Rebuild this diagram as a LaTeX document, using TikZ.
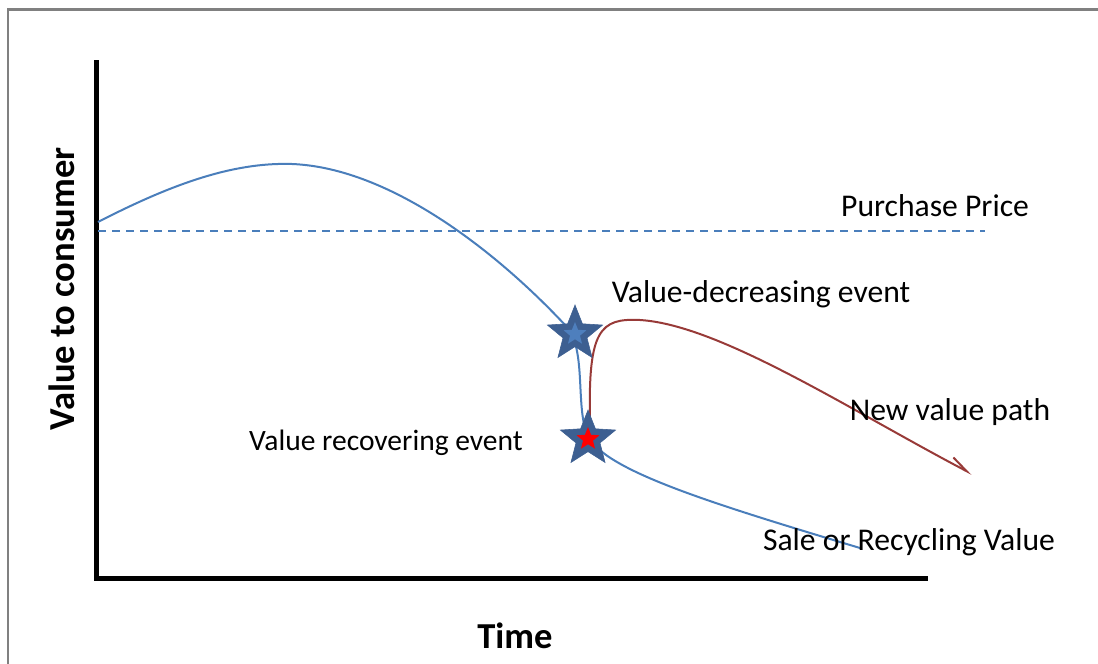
\documentclass[tikz,border=0pt]{standalone}
\usepackage{fontspec}
\setmainfont{Carlito}
\usetikzlibrary{shapes.geometric,arrows.meta}
\definecolor{curveblue}{HTML}{4A7EBB}
\definecolor{curvered}{HTML}{983A38}
\definecolor{stardark}{HTML}{3D5F91}
\definecolor{starlight}{HTML}{4E7FBD}
\tikzset{
  lbl/.style={font=\fontsize{22.5}{26}\selectfont, inner sep=0pt},
  axislbl/.style={font=\fontsize{26}{30}\selectfont\bfseries, inner sep=0pt},
  bigstar/.style={star, star points=5, star point ratio=2.3, fill=stardark, draw=stardark, minimum size=1.45cm, inner sep=0pt},
  smallstar/.style={star, star points=5, star point ratio=2.3, minimum size=0.6cm, inner sep=0pt}
}
\begin{document}
\begin{tikzpicture}[x=0.025cm,y=-0.025cm]
    \useasboundingbox (0,0) rectangle (1098,664);
    \draw[gray, line width=0.05cm] (8,664) -- (8,9.5) -- (1098,9.5);
    % axes
    \coordinate (top) at (96,62);
    \coordinate (origin) at (96,578);
    \coordinate (right) at (925,578);
    \draw[line width=0.125cm, line cap=rect] (top) -- (origin) -- (right);
    \node[axislbl] (time) at (515,636) {Time};
    \node[axislbl, rotate=90] (value) at (62,289) {Value to consumer};
    % purchase price
    \coordinate (pp start) at (98,231);
    \coordinate (pp end) at (985,231);
    \draw[curveblue, line width=0.04cm, dash pattern=on 0.2cm off 0.15cm] (pp start) -- (pp end);
    \node[lbl] (price) at (935,206) {Purchase Price};
    % value curves
    \coordinate (start) at (98,222);
    \coordinate (peak) at (292,164);
    \coordinate (event) at (566,326);
    \coordinate (recover) at (586,432);
    \coordinate (resale) at (860,548);
    \coordinate (newtop) at (640,320);
    \coordinate (newend) at (972,474);
    \draw[curveblue, line width=0.05cm] (start)
      .. controls (170,185) and (232,162) .. (peak)
      .. controls (392,168) and (500,255) .. (event)
      .. controls (586,348) and (576,400) .. (recover)
      .. controls (598,468) and (700,500) .. (resale);
    \draw[curvered, line width=0.05cm, -{Straight Barb[harpoon, length=0.45cm, width=0.3cm]}] (590,420)
      .. controls (588,330) and (600,318) .. (newtop)
      .. controls (720,325) and (850,410) .. (newend);
    % events
    \node[bigstar] (star1) at (575,334) {};
    \node[smallstar, fill=starlight] (star1in) at (star1) {};
    \node[bigstar] (star2) at (588,439) {};
    \node[smallstar, fill=red] (star2in) at (star2) {};
    \node[lbl] (decrease) at (761,294) {Value-decreasing event};
    \node[lbl, font=\fontsize{21}{25}\selectfont] (recovering) at (386,443) {Value recovering event};
    \node[lbl] (newpath) at (950,412) {New value path};
    \node[lbl] (sale) at (909,542) {Sale or Recycling Value};
\end{tikzpicture}
\end{document}
